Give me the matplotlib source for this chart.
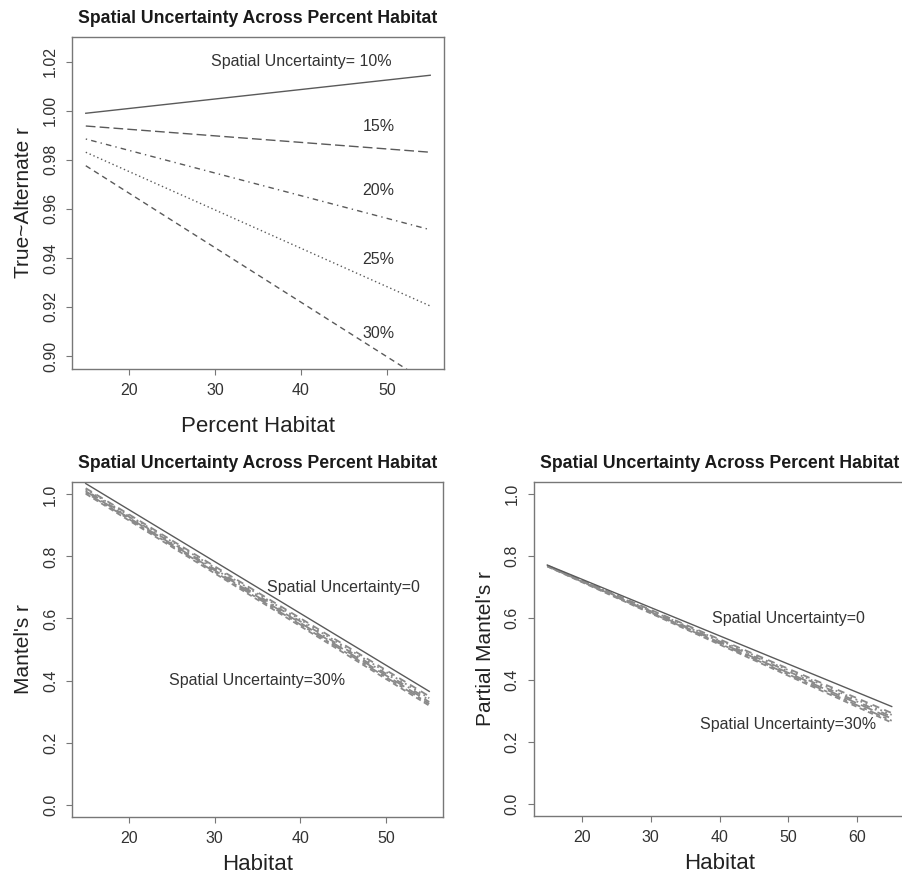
import matplotlib
matplotlib.use("Agg")
import matplotlib.pyplot as plt

plt.rcParams['font.family'] = ['Liberation Sans', 'DejaVu Sans']

# ---- data ----
# top panel: True~Alternate r vs percent habitat, one line per uncertainty level
habitat_top = [15, 55]
unc_levels = ['10%', '15%', '20%', '25%', '30%']
true_alt = [
    [0.9990, 1.0145],
    [0.9938, 0.9831],
    [0.9885, 0.9515],
    [0.9831, 0.9204],
    [0.9776, 0.8885],
]
label_y_top = [1.020, 0.9935, 0.9674, 0.9394, 0.9093]

# bottom left: Mantel's r
habitat_left = [15, 55]
mantel_zero = [1.035, 0.365]
mantel_unc_start = [1.020, 1.017, 1.013, 1.010, 1.006, 1.002]
mantel_unc_end = [0.349, 0.343, 0.337, 0.331, 0.325, 0.319]

# bottom right: partial Mantel's r
habitat_right = [15, 65]
partial_zero = [0.7715, 0.314]
partial_unc_start = [0.770, 0.769, 0.769, 0.768, 0.768, 0.767]
partial_unc_end = [0.293, 0.287, 0.281, 0.275, 0.268, 0.262]

top_xticks = [20, 30, 40, 50]
top_yticks = [0.90, 0.92, 0.94, 0.96, 0.98, 1.00, 1.02]
bot_yticks = [0.0, 0.2, 0.4, 0.6, 0.8, 1.0]
right_xticks = [20, 30, 40, 50, 60]

title = "Spatial Uncertainty Across Percent Habitat"

# styles (R lty-ish)
top_styles = ['-', (0, (7, 3)), (0, (1, 3, 4, 3)), (0, (1, 2)), (0, (4, 3))]
band_styles = [(0, (4, 3)), (0, (1, 2)), (0, (1, 3, 4, 3)), (0, (7, 3)),
               (0, (2, 2, 6, 2)), (0, (3, 2))]

W, H = 902, 877
fig = plt.figure(figsize=(W / 100, H / 100), dpi=100)


def box(l, r, t, b):
    return [l / W, 1 - b / H, (r - l) / W, (b - t) / H]


def r_style(ax, xticks, yticks, ylabels, xlabel, ylabel, xlabelpad, ylabelpad):
    for s in ax.spines.values():
        s.set_color('#777777')
        s.set_linewidth(1.0)
    ax.set_xticks(xticks)
    ax.set_yticks(yticks)
    ax.set_yticklabels(ylabels, rotation=90, va='center')
    ax.tick_params(direction='out', length=4, width=0.8, color='#777777',
                   labelcolor='#333333', labelsize=11.5, pad=6)
    ax.set_xlabel(xlabel, fontsize=16, color='#222222', labelpad=xlabelpad)
    ax.set_ylabel(ylabel, fontsize=15, color='#222222', labelpad=ylabelpad)
    ax.set_title(title, fontsize=12.7, fontweight='bold', color='#1a1a1a', pad=10)


# ---- top panel ----
ax1 = fig.add_axes(box(72, 444, 37, 369))
for vals, ls in zip(true_alt, top_styles):
    ax1.plot(habitat_top, vals, color='#5a5a5a', lw=1.0, linestyle=ls)
ax1.set_xlim(13.4, 56.6)
ax1.set_ylim(0.8947, 1.0301)
ax1.text(40, label_y_top[0], "Spatial Uncertainty= " + unc_levels[0],
         ha='center', va='center', fontsize=11.5, color='#333333')
for lab, yy in zip(unc_levels[1:], label_y_top[1:]):
    ax1.text(49, yy, lab, ha='center', va='center', fontsize=11.5, color='#333333')
r_style(ax1, top_xticks, top_yticks, [f"{v:.2f}" for v in top_yticks],
        "Percent Habitat", "True~Alternate r", 13, 7)

# ---- bottom left ----
ax2 = fig.add_axes(box(72, 443, 482, 817))
for s0, s1, ls in zip(mantel_unc_start, mantel_unc_end, band_styles):
    ax2.plot(habitat_left, [s0, s1], color='#8a8a8a', lw=1.3, linestyle=ls)
ax2.plot(habitat_left, mantel_zero, color='#5a5a5a', lw=1.0)
ax2.set_xlim(13.4, 56.6)
ax2.set_ylim(-0.04, 1.04)
ax2.text(45, 0.70, "Spatial Uncertainty=0", ha='center', va='center',
         fontsize=11.5, color='#333333')
ax2.text(35, 0.40, "Spatial Uncertainty=30%", ha='center', va='center',
         fontsize=11.5, color='#333333')
r_style(ax2, top_xticks, bot_yticks, [f"{v:.1f}" for v in bot_yticks],
        "Habitat", "Mantel's r", 6, 7)

# ---- bottom right (cut at the figure edge) ----
ax3 = fig.add_axes(box(533.5, 905.5, 482, 816))
for s0, s1, ls in zip(partial_unc_start, partial_unc_end, band_styles):
    ax3.plot(habitat_right, [s0, s1], color='#8a8a8a', lw=1.3, linestyle=ls)
ax3.plot(habitat_right, partial_zero, color='#5a5a5a', lw=1.0)
ax3.set_xlim(13, 67)
ax3.set_ylim(-0.04, 1.04)
ax3.text(50, 0.60, "Spatial Uncertainty=0", ha='center', va='center',
         fontsize=11.5, color='#333333')
ax3.text(50, 0.255, "Spatial Uncertainty=30%", ha='center', va='center',
         fontsize=11.5, color='#333333')
r_style(ax3, right_xticks, bot_yticks, [f"{v:.1f}" for v in bot_yticks],
        "Habitat", "Partial Mantel's r", 6, 7)

fig.savefig("out.png", dpi=100, facecolor='white')
